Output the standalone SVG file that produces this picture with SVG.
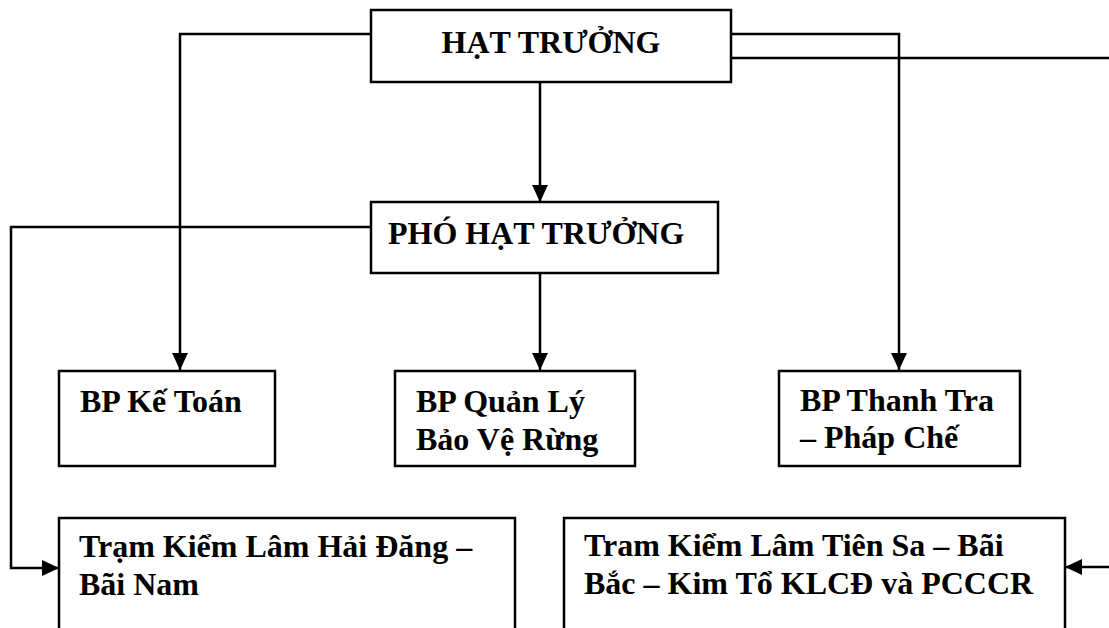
<svg xmlns="http://www.w3.org/2000/svg" width="1109" height="628" viewBox="0 0 1109 628">
<style>
.box{fill:#fff;stroke:#000;stroke-width:2.5}
.t{font-family:"Liberation Serif","Times New Roman",serif;font-weight:bold;font-size:32px;fill:#000}
.c{fill:none;stroke:#000;stroke-width:2.5}
</style>
<defs>
<marker id="arr" markerUnits="userSpaceOnUse" markerWidth="18" markerHeight="18" refX="17" refY="8" orient="auto">
<path d="M0,0 L17,8 L0,16 z" fill="#000"/>
</marker>
</defs>
<rect width="1109" height="628" fill="#fff"/>
<g id="connectors">
<path class="c" d="M371,34 H180 V370" marker-end="url(#arr)"/>
<path class="c" d="M731,34 H899 V370" marker-end="url(#arr)"/>
<path class="c" d="M540,82 V202" marker-end="url(#arr)"/>
<path class="c" d="M371,227 H11 V568 H59" marker-end="url(#arr)"/>
<path class="c" d="M540,273 V370" marker-end="url(#arr)"/>
<path class="c" d="M731,58 H1118 V567 H1065" marker-end="url(#arr)"/>
</g>
<g id="hat-truong">
<rect class="box" x="371" y="10" width="360" height="72"/>
<text class="t" x="551" y="53" text-anchor="middle">HẠT TRƯỞNG</text>
</g>
<g id="pho-hat-truong">
<rect class="box" x="371" y="202" width="347" height="71"/>
<text class="t" x="388" y="244">PHÓ HẠT TRƯỞNG</text>
</g>
<g id="bp-ke-toan">
<rect class="box" x="59" y="371" width="216" height="95"/>
<text class="t" x="80" y="412">BP Kế Toán</text>
</g>
<g id="bp-quan-ly">
<rect class="box" x="395" y="371" width="240" height="95"/>
<text class="t" x="416" y="412">BP Quản Lý</text>
<text class="t" x="416" y="450">Bảo Vệ Rừng</text>
</g>
<g id="bp-thanh-tra">
<rect class="box" x="779" y="371" width="241" height="95"/>
<text class="t" x="800" y="411">BP Thanh Tra</text>
<text class="t" x="800" y="448">– Pháp Chế</text>
</g>
<g id="tram-hai-dang">
<rect class="box" x="59" y="518" width="456" height="130"/>
<text class="t" x="79" y="557">Trạm Kiểm Lâm Hải Đăng –</text>
<text class="t" x="79" y="595">Bãi Nam</text>
</g>
<g id="tram-tien-sa">
<rect class="box" x="564" y="518" width="501" height="130"/>
<text class="t" x="584" y="556">Tram Kiểm Lâm Tiên Sa – Bãi</text>
<text class="t" x="584" y="594">Bắc – Kim Tổ KLCĐ và PCCCR</text>
</g>
</svg>
